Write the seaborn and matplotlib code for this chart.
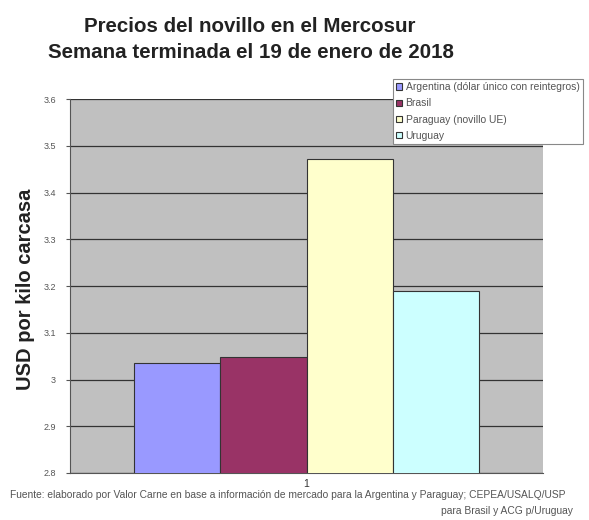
import matplotlib
matplotlib.use("Agg")
import matplotlib.pyplot as plt
import seaborn as sns
import pandas as pd

countries = ["Argentina (dólar único con reintegros)", "Brasil", "Paraguay (novillo UE)", "Uruguay"]
values = [3.035, 3.048, 3.472, 3.189]
group = ["1", "1", "1", "1"]
colors = ["#9999FF", "#993366", "#FFFFCC", "#CCFFFF"]
yticks = [2.8, 2.9, 3.0, 3.1, 3.2, 3.3, 3.4, 3.5, 3.6]
ytick_labels = ["2.8", "2.9", "3", "3.1", "3.2", "3.3", "3.4", "3.5", "3.6"]

sns.set_style("white")
plt.rcParams['font.family'] = ['Liberation Sans', 'DejaVu Sans']

df = pd.DataFrame({"grupo": group, "pais": countries, "valor": values})

fig = plt.figure(figsize=(5.89, 5.20), dpi=100)
ax = fig.add_axes([70/589, 1-473/520, 473/589, 374/520])
ax.set_facecolor("#C0C0C0")

sns.barplot(data=df, x="grupo", y="valor", hue="pais", hue_order=countries,
            palette=colors, saturation=1, width=0.73, edgecolor="#333333", linewidth=0.8,
            ax=ax, legend=True, zorder=3)

ax.set_ylim(2.8, 3.6)
ax.set_yticks(yticks)
ax.set_yticklabels(ytick_labels, fontsize=6.5, color="#555555")
ax.set_xticks([0])
ax.set_xticklabels(["1"], fontsize=7.5, color="#333333")
ax.grid(axis="y", color="#333333", linewidth=0.9, zorder=1)
ax.set_axisbelow(True)
for s in ["top", "right"]:
    ax.spines[s].set_visible(False)
ax.spines["left"].set_color("#555555")
ax.spines["bottom"].set_color("#555555")
ax.tick_params(axis="y", length=3, color="#555555", pad=7, left=True)
ax.tick_params(axis="x", length=0, pad=4)
ax.set_xlabel("")
ax.set_ylabel("")
fig.text(26/589, 1-289/520, "USD por kilo carcasa", rotation=90, ha="center", va="center",
         fontsize=14.5, fontweight="bold", color="#222222")

leg = ax.legend(loc="upper left", bbox_to_anchor=(393/589, 1-79/520), bbox_transform=fig.transFigure,
                fontsize=7.5, frameon=True, fancybox=False, edgecolor="#888888", framealpha=1,
                facecolor="white",
                handlelength=0.55, handleheight=0.55, handletextpad=0.35, labelspacing=0.6,
                borderpad=0.3, borderaxespad=0)
for t in leg.get_texts():
    t.set_color("#555555")
leg.get_frame().set_linewidth(0.8)

fig.text(250/589, 1-27/520, "Precios del novillo en el Mercosur", ha="center", va="center",
         fontsize=14.8, fontweight="bold", color="#222222")
fig.text(251/589, 1-53/520, "Semana terminada el 19 de enero de 2018", ha="center", va="center",
         fontsize=14.8, fontweight="bold", color="#222222")
fig.text(10/589, 1-495/520, "Fuente: elaborado por Valor Carne en base a información de mercado para la Argentina y Paraguay; CEPEA/USALQ/USP",
         ha="left", va="center", fontsize=7.4, color="#555555")
fig.text(573/589, 1-511/520, "para Brasil y ACG p/Uruguay", ha="right", va="center",
         fontsize=7.4, color="#555555")

fig.savefig("out.png", dpi=100)
